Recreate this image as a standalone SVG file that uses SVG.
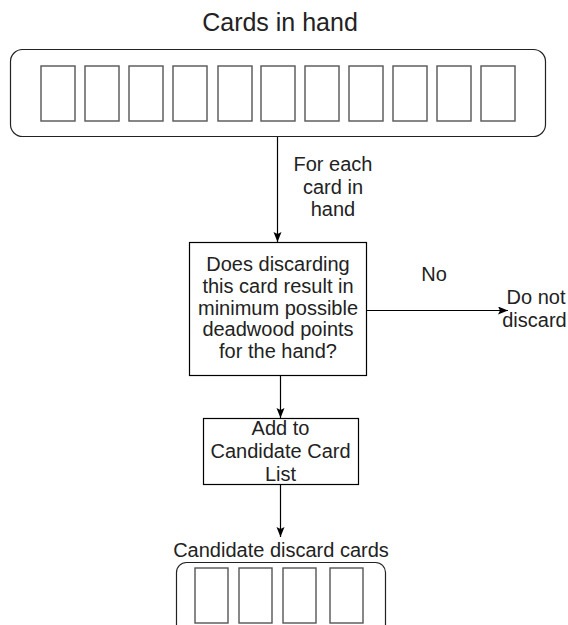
<svg xmlns="http://www.w3.org/2000/svg" width="568" height="625" viewBox="0 0 568 625">
  <style>
    text { font-family: "Liberation Sans", Arial, sans-serif; font-size: 20px; fill: #222; text-anchor: middle; }
    .title { font-size: 25px; }
    .box { fill: #fff; stroke: #000; stroke-width: 1.2; }
    .hand { fill: #fff; stroke: #222; stroke-width: 1.2; }
    .card { fill: #fff; stroke: #555; stroke-width: 1.4; }
    .conn { fill: none; stroke: #000; stroke-width: 1.2; }
  </style>
  <defs>
    <marker id="arrow" markerUnits="userSpaceOnUse" markerWidth="11" markerHeight="9" refX="10" refY="4" orient="auto">
      <path d="M0,0 L10,4 L0,8 L2,4 z" fill="#000"/>
    </marker>
  </defs>
  <rect width="568" height="625" fill="#fff"/>

  <g id="hand">
    <text class="title" x="280" y="31">Cards in hand</text>
    <rect class="hand" x="10.5" y="49.5" width="535" height="87" rx="12"/>
    <rect class="card" x="41" y="66" width="34" height="55"/>
    <rect class="card" x="85" y="66" width="34" height="55"/>
    <rect class="card" x="129" y="66" width="34" height="55"/>
    <rect class="card" x="173" y="66" width="34" height="55"/>
    <rect class="card" x="218" y="66" width="34" height="55"/>
    <rect class="card" x="261" y="66" width="34" height="55"/>
    <rect class="card" x="305" y="66" width="34" height="55"/>
    <rect class="card" x="349" y="66" width="34" height="55"/>
    <rect class="card" x="393" y="66" width="34" height="55"/>
    <rect class="card" x="437" y="66" width="34" height="55"/>
    <rect class="card" x="481" y="66" width="34" height="55"/>
  </g>

  <g id="decision">
    <rect class="box" x="189.5" y="242.5" width="177" height="133"/>
    <text x="278" y="271">Does discarding</text>
    <text x="278" y="293">this card result in</text>
    <text x="278" y="314.5">minimum possible</text>
    <text x="278" y="336">deadwood points</text>
    <text x="278" y="358">for the hand?</text>
  </g>

  <g id="donotdiscard">
    <text x="536" y="304">Do not</text>
    <text x="534.5" y="327">discard</text>
  </g>

  <g id="addcandidate">
    <rect class="box" x="203.5" y="418.5" width="155" height="66"/>
    <text x="280.5" y="434.5">Add to</text>
    <text x="280.5" y="457.5">Candidate Card</text>
    <text x="280.5" y="480.5">List</text>
  </g>

  <g id="candidates">
    <text x="281" y="557">Candidate discard cards</text>
    <rect class="hand" x="176.5" y="562.5" width="209" height="75" rx="10"/>
    <rect class="card" x="195" y="568" width="33" height="55"/>
    <rect class="card" x="239" y="568" width="33" height="55"/>
    <rect class="card" x="283" y="568" width="33" height="55"/>
    <rect class="card" x="330" y="568" width="33" height="55"/>
  </g>

  <g id="connectors">
    <path class="conn" d="M277.5,137 V242" marker-end="url(#arrow)"/>
    <text x="333" y="171">For each</text>
    <text x="333" y="193.5">card in</text>
    <text x="333" y="216">hand</text>
    <path class="conn" d="M366.5,310.5 H508" marker-end="url(#arrow)"/>
    <text x="434" y="281">No</text>
    <path class="conn" d="M280.5,375.5 V418" marker-end="url(#arrow)"/>
    <path class="conn" d="M280.5,484.5 V537" marker-end="url(#arrow)"/>
  </g>
</svg>
